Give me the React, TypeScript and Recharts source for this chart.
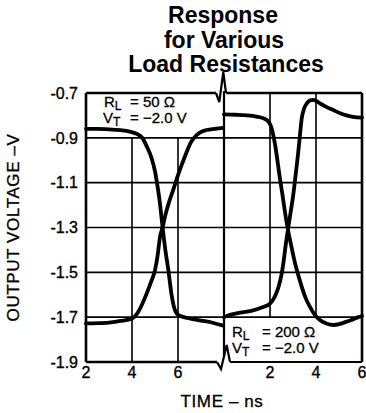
import React from "react"
import { LineChart, Line, XAxis, YAxis, ReferenceLine, Label } from "recharts"

// left panel: 2..8 ns, right panel: 0..6 ns drawn after the break
const BREAK = 8

const fallLeftT = [2.0, 2.5, 3.0, 3.5, 3.9, 4.2, 4.45, 4.65, 4.85, 5.0, 5.1, 5.2, 5.33, 5.45, 5.58, 5.72, 5.84, 5.94, 6.1, 6.5, 7.0, 7.5, 7.97]
const fallLeftV = [-0.86, -0.86, -0.862, -0.866, -0.872, -0.882, -0.9, -0.94, -0.99, -1.05, -1.11, -1.18, -1.3, -1.4, -1.49, -1.6, -1.66, -1.683, -1.695, -1.705, -1.715, -1.725, -1.738]

const riseLeftT = [2.0, 2.5, 3.0, 3.5, 4.0, 4.25, 4.45, 4.64, 4.82, 5.0, 5.12, 5.22, 5.33, 5.45, 5.6, 5.8, 6.0, 6.2, 6.38, 6.56, 6.74, 6.95, 7.25, 7.6, 7.97]
const riseLeftV = [-1.728, -1.727, -1.724, -1.717, -1.706, -1.68, -1.64, -1.594, -1.545, -1.49, -1.42, -1.34, -1.3, -1.245, -1.19, -1.13, -1.066, -1.01, -0.962, -0.92, -0.895, -0.877, -0.865, -0.86, -0.856]

const fallRightT = [0.0, 0.5, 1.0, 1.4, 1.7, 1.95, 2.07, 2.22, 2.43, 2.55, 2.65, 2.78, 2.9, 3.09, 3.25, 3.38, 3.55, 3.74, 3.95, 4.17, 4.45, 4.75, 5.05, 5.33, 5.6, 5.84, 6.0]
const fallRightV = [-0.795, -0.797, -0.8, -0.805, -0.812, -0.83, -0.857, -0.93, -1.08, -1.16, -1.23, -1.31, -1.37, -1.46, -1.52, -1.565, -1.615, -1.654, -1.69, -1.713, -1.728, -1.735, -1.73, -1.72, -1.71, -1.7, -1.695]

const riseRightT = [0.0, 0.26, 0.7, 1.27, 1.7, 2.0, 2.2, 2.37, 2.5, 2.58, 2.68, 2.78, 2.9, 3.01, 3.12, 3.23, 3.3, 3.38, 3.48, 3.6, 3.75, 3.88, 4.0, 4.17, 4.45, 4.75, 5.05, 5.33, 5.6, 6.0]
const riseRightV = [-1.7, -1.69, -1.68, -1.67, -1.655, -1.64, -1.61, -1.565, -1.51, -1.46, -1.38, -1.31, -1.23, -1.155, -1.06, -0.962, -0.89, -0.813, -0.77, -0.746, -0.733, -0.731, -0.735, -0.746, -0.762, -0.776, -0.79, -0.8, -0.806, -0.81]

const timeTicks = [2, 4, 6, 8, 10, 12, 14]
const timeTickLabels = ["2", "4", "6", "", "2", "4", "6"]
const voltTicks = [-1.9, -1.7, -1.5, -1.3, -1.1, -0.9, -0.7]

const FONT = "'Liberation Sans', Arial, Helvetica, sans-serif"

const toSeries = (ts: number[], vs: number[], offset = 0) =>
  ts.map((t, i) => ({ t: t + offset, v: vs[i] }))

const curves = [
  toSeries(fallLeftT, fallLeftV),
  toSeries(riseLeftT, riseLeftV),
  toSeries(fallRightT, fallRightV, BREAK),
  toSeries(riseRightT, riseRightV, BREAK),
]

// vertical break line with the little zigzags on the frame
function BreakMark(props: any) {
  const { x1, y1, y2 } = props
  const top = Math.min(y1, y2)
  const bot = Math.max(y1, y2)
  const x = x1
  return (
    <g fill="none" stroke="#000" strokeWidth={2.2} strokeLinejoin="miter">
      <path d={`M${x - 8},${top} L${x - 4.7},${top + 9} L${x - 0.7},${top - 21} L${x + 2},${top}`} />
      <path d={`M${x - 7},${bot} L${x - 3},${bot + 7} L${x + 2.7},${bot - 17} L${x + 6},${bot}`} />
      <line x1={x} y1={top - 2} x2={x} y2={bot - 6} />
    </g>
  )
}

function YTitle(props: any) {
  const vb = props.viewBox || { x: 0, y: 93, width: 86, height: 269 }
  const cx = vb.x + 13
  const cy = vb.y + vb.height / 2
  return (
    <text
      x={cx}
      y={cy}
      transform={`rotate(-90, ${cx}, ${cy})`}
      textAnchor="middle"
      dominantBaseline="central"
      fontFamily={FONT}
      fontSize={17}
      letterSpacing={0.6}
      fill="#000"
      stroke="#000"
      strokeWidth={0.3}
    >
      OUTPUT VOLTAGE –V
    </text>
  )
}

const tickStyle = { fill: "#000", fontSize: 16, fontFamily: FONT, stroke: "#000", strokeWidth: 0.35 }

export default function App() {
  const gridColor = "#000"
  return (
    <div style={{ position: "absolute", left: 0, top: 0, width: 366, height: 413, background: "#fff" }}>
      <LineChart width={366} height={413} margin={{ top: 93, right: 4, bottom: 21, left: 0 }}>
        <XAxis
          dataKey="t"
          type="number"
          domain={[2, 14]}
          ticks={timeTicks}
          interval={0}
          tickFormatter={(v: number) => timeTickLabels[timeTicks.indexOf(v)] ?? ""}
          axisLine={false}
          tickLine={false}
          tickSize={0}
          tickMargin={5}
          height={30}
          tick={tickStyle}
        >
          <Label
            value="TIME – ns"
            position="bottom"
            offset={3}
            dx={-2}
            fill="#000"
            stroke="#000"
            strokeWidth={0.3}
            fontSize={17}
            letterSpacing={0.6}
            fontFamily={FONT}
          />
        </XAxis>
        <YAxis
          type="number"
          domain={[-1.9, -0.7]}
          ticks={voltTicks}
          interval={0}
          tickFormatter={(v: number) => v.toFixed(1)}
          axisLine={false}
          tickLine={false}
          tickSize={0}
          tickMargin={8}
          width={86}
          tick={tickStyle}
        >
          <Label content={<YTitle />} />
        </YAxis>

        {/* grid, left panel leaves room for the label box above -0.9 */}
        {[-0.9, -1.1, -1.3, -1.5, -1.7].map((y) => (
          <ReferenceLine key={"h" + y} segment={[{ x: 2, y }, { x: 14, y }]} stroke={gridColor} strokeWidth={1.6} />
        ))}
        {[4, 6].map((x) => (
          <ReferenceLine key={"vl" + x} segment={[{ x, y: -0.9 }, { x, y: -1.9 }]} stroke={gridColor} strokeWidth={1.6} />
        ))}
        {[10, 12].map((x) => (
          <ReferenceLine key={"vr" + x} segment={[{ x, y: -0.7 }, { x, y: -1.7 }]} stroke={gridColor} strokeWidth={1.6} />
        ))}

        {/* frame */}
        <ReferenceLine segment={[{ x: 2, y: -0.7 }, { x: 2, y: -1.9 }]} stroke="#000" strokeWidth={2.6} />
        <ReferenceLine segment={[{ x: 14, y: -0.7 }, { x: 14, y: -1.9 }]} stroke="#000" strokeWidth={2.6} />
        <ReferenceLine segment={[{ x: 2, y: -0.7 }, { x: 7.652, y: -0.7 }]} stroke="#000" strokeWidth={2.4} />
        <ReferenceLine segment={[{ x: 8.087, y: -0.7 }, { x: 14, y: -0.7 }]} stroke="#000" strokeWidth={2.4} />
        <ReferenceLine segment={[{ x: 2, y: -1.9 }, { x: 7.696, y: -1.9 }]} stroke="#000" strokeWidth={2.4} />
        <ReferenceLine segment={[{ x: 8.26, y: -1.9 }, { x: 14, y: -1.9 }]} stroke="#000" strokeWidth={1.8} />
        <ReferenceLine x={BREAK} stroke="#000" shape={<BreakMark />} ifOverflow="visible" />

        {curves.map((d, i) => (
          <Line
            key={i}
            data={d}
            dataKey="v"
            type="monotone"
            stroke="#000"
            strokeWidth={3.8}
            strokeLinejoin="round"
            strokeLinecap="round"
            dot={false}
            activeDot={false}
            isAnimationActive={false}
          />
        ))}
      </LineChart>

      <svg
        width={366}
        height={413}
        style={{ position: "absolute", left: 0, top: 0, pointerEvents: "none" }}
        fontFamily={FONT}
        fill="#000"
      >
        <g fontWeight="bold" fontSize={23} textAnchor="middle">
          <text x={223} y={23}>Response</text>
          <text x={224} y={48}>for Various</text>
          <text x={226} y={72}>Load Resistances</text>
        </g>
        <g fontSize={15} stroke="#000" strokeWidth={0.3}>
          <text x={104} y={107}>
            R<tspan fontSize={12} dy={3}>L</tspan>
            <tspan x={130} dy={-3}>= 50 Ω</tspan>
          </text>
          <text x={103} y={123}>
            V<tspan fontSize={12} dy={3}>T</tspan>
            <tspan x={130} dy={-3}>= −2.0 V</tspan>
          </text>
        </g>
        <g fontSize={15} stroke="#000" strokeWidth={0.3}>
          <text x={232} y={337}>
            R<tspan fontSize={12} dy={3}>L</tspan>
            <tspan x={262} dy={-3}>= 200 Ω</tspan>
          </text>
          <text x={232} y={353}>
            V<tspan fontSize={12} dy={3}>T</tspan>
            <tspan x={262} dy={-3}>= −2.0 V</tspan>
          </text>
        </g>
      </svg>
    </div>
  )
}
